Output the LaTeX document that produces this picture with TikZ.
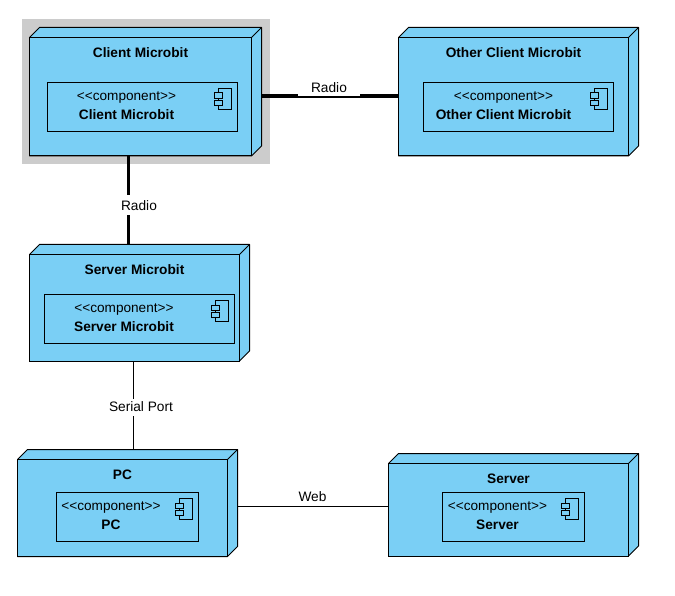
\documentclass[tikz,border=0pt]{standalone}
\usepackage{fontspec}
\setmainfont{Liberation Sans}
\usetikzlibrary{calc,positioning}
\definecolor{nodeblue}{HTML}{7ACFF5}
\definecolor{selgray}{HTML}{CCCCCC}
\tikzset{
  deploybox/.style={draw=black,line width=1pt,fill=nodeblue,inner sep=0pt,outer sep=0pt,anchor=north west},
  compbox/.style={draw=black,line width=1pt,fill=nodeblue,inner sep=0pt,outer sep=0pt,anchor=north west},
  titletext/.style={font=\fontsize{13.7}{15}\selectfont\bfseries,inner sep=0pt},
  stereotext/.style={font=\fontsize{13.6}{15}\selectfont,inner sep=0pt},
  linklabel/.style={font=\fontsize{13.7}{15}\selectfont,fill=white,inner sep=0pt,minimum height=17pt},
  thinlink/.style={draw=black,line width=1pt},
  thicklink/.style={draw=black,line width=3.4pt},
}
% name, x, y, width, height, title
\newcommand{\deploynode}[6]{
  \draw[line width=1pt,fill=nodeblue,line join=round] (#2,#3) -- ++(10,-10) -- ++(#4,0) -- ++(0,#5) -- ++(-10,10) -- ++(-#4,0) -- cycle;
  \node[deploybox,minimum width=#4pt,minimum height=#5pt] (#1) at (#2,#3) {};
  \draw[line width=1pt] (#1.north east) -- ++(10,-10);
  \coordinate (#1-side) at ([xshift=10pt]#1.east);
  \coordinate (#1-top) at ([yshift=10pt]#1.north);
  \node[titletext] (#1-title) at ([yshift=-15.5pt]#1.north) {#6};
}
% name, x, y, width, height, text centre x, label
\newcommand{\compnode}[7]{
  \node[compbox,minimum width=#4pt,minimum height=#5pt] (#1) at (#2,#3) {};
  \node[stereotext] (#1-stereo) at (#6,#3+15.5) {<{}<component>{}>};
  \node[titletext] (#1-name) at (#6,#3+32.5) {#7};
  \draw[line width=1pt] ([xshift=-19pt,yshift=-6pt]#1.north east) rectangle ([xshift=-6pt,yshift=-27pt]#1.north east);
  \draw[line width=1pt,fill=nodeblue] ([xshift=-23pt,yshift=-10.5pt]#1.north east) rectangle ([xshift=-15pt,yshift=-16pt]#1.north east);
  \draw[line width=1pt,fill=nodeblue] ([xshift=-23pt,yshift=-18pt]#1.north east) rectangle ([xshift=-15pt,yshift=-23pt]#1.north east);
}
\begin{document}
\begin{tikzpicture}[x=1pt,y=-1pt]
  \useasboundingbox (0,0) rectangle (675,596);
  \fill[selgray] (22,19.5) rectangle (269.5,164.5);

  \deploynode{client}{29.5}{37.5}{222}{118.5}{Client Microbit}
  \compnode{clientcomp}{47.5}{82.5}{190}{49}{126.5}{Client Microbit}
  \deploynode{other}{398.5}{37.5}{230}{118.5}{Other Client Microbit}
  \compnode{othercomp}{423.5}{82.5}{190}{49}{503.5}{Other Client Microbit}
  \deploynode{servermb}{29.5}{254.5}{210}{106.5}{Server Microbit}
  \compnode{servermbcomp}{44.5}{294.5}{190}{49}{124}{Server Microbit}
  \deploynode{pc}{17.5}{459.5}{210}{97}{PC}
  \compnode{pccomp}{56.5}{492.5}{142}{49}{111}{PC}
  \deploynode{server}{388.5}{463.5}{240}{92.5}{Server}
  \compnode{servercomp}{442.5}{492.5}{142}{49}{497.5}{Server}

  \coordinate (radioh) at (329,96);
  \coordinate (radiov) at (128.5,205);
  \coordinate (serial) at (133.5,407);
  \coordinate (web) at (312.5,506);
  \draw[thicklink] (client-side |- radioh) -- (other.west |- radioh);
  \draw[thicklink] (radiov |- client.south) -- (radiov |- servermb-top);
  \draw[thinlink] (serial |- servermb.south) -- (serial |- pc-top);
  \draw[thinlink] (pc-side |- web) -- (server.west |- web);

  \node[linklabel,minimum width=62pt] (radiohlabel) at (329,87.5) {Radio};
  \node[linklabel,minimum width=38pt,minimum height=20pt] (radiovlabel) at (139,205.5) {Radio};
  \node[linklabel,minimum width=66pt] (seriallabel) at (141,407) {Serial Port};
  \node[linklabel,minimum width=28pt] (weblabel) at (312.5,497) {Web};
\end{tikzpicture}
\end{document}
